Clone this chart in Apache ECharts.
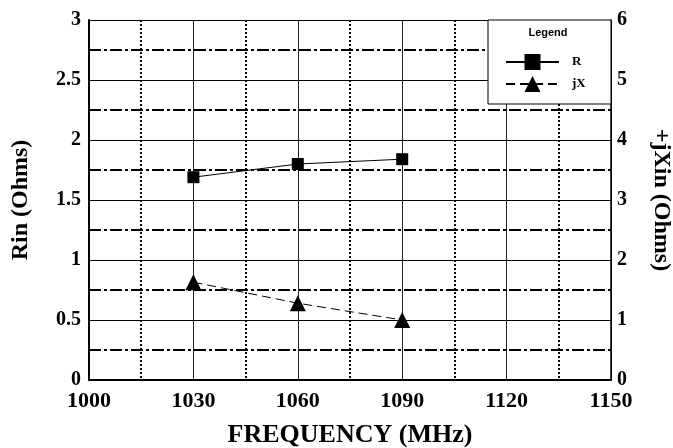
<!DOCTYPE html>
<html><head><meta charset="utf-8">
<script src="https://cdn.jsdelivr.net/npm/echarts@6/dist/echarts.min.js"></script>
<style>html,body{margin:0;padding:0;background:#fff}#c{width:673px;height:448px}</style>
</head><body><div id="c"></div>
<script>
const frequency = [1030, 1060, 1090];
const rValues = [1.69, 1.80, 1.84];
const jxValues = [1.63, 1.28, 1.00];
const seriesNames = ['R', 'jX'];
const xTitle = 'FREQUENCY (MHz)';
const leftTitle = 'Rin (Ohms)';
const rightTitle = '+jXin (Ohms)';

const serif = '"Liberation Serif", "Times New Roman", serif';
const chart = echarts.init(document.getElementById('c'));
chart.setOption({
  animation: false,
  backgroundColor: '#fff',
  grid: {left: 89, right: 62, top: 20, bottom: 68, containLabel: false, outerBoundsMode: 'none'},
  graphic: [
    {type: 'rect', z: 3, shape: {x: 488, y: 20, width: 123, height: 84},
     style: {fill: '#fff', stroke: '#000', lineWidth: 1}},
    {type: 'text', z: 4, x: 548, y: 33,
     style: {text: 'Legend', font: 'bold 11px "Liberation Sans", Arial, sans-serif', fill: '#000', align: 'center', verticalAlign: 'middle'}}
  ],
  legend: {
    z: 5, orient: 'vertical', left: 505, top: 54, itemGap: 6, padding: 0,
    itemWidth: 53, itemHeight: 20,
    textStyle: {fontFamily: serif, fontWeight: 'bold', fontSize: 13, color: '#000', padding: [0, 0, 0, 8]},
    data: seriesNames
  },
  xAxis: {
    type: 'value', min: 1000, max: 1150, interval: 30,
    name: xTitle, nameLocation: 'middle', nameGap: 42,
    nameTextStyle: {fontFamily: serif, fontWeight: 'bold', fontSize: 26, color: '#000'},
    axisLine: {show: true, lineStyle: {color: '#000', width: 2}},
    axisTick: {show: false},
    axisLabel: {fontFamily: serif, fontWeight: 'bold', fontSize: 22, color: '#000', margin: 10,
                formatter: v => String(v)},
    splitLine: {show: true, lineStyle: {color: '#222', width: 1}},
    minorTick: {show: false, splitNumber: 2},
    minorSplitLine: {show: true, lineStyle: {color: '#000', width: 2, type: [2, 2]}}
  },
  yAxis: [{
    type: 'value', min: 0, max: 3, interval: 0.5, position: 'left',
    name: leftTitle, nameLocation: 'middle', nameGap: 56, nameRotate: 90,
    nameTextStyle: {fontFamily: serif, fontWeight: 'bold', fontSize: 24, color: '#000'},
    axisLine: {show: true, lineStyle: {color: '#000', width: 2}},
    axisTick: {show: false},
    axisLabel: {fontFamily: serif, fontWeight: 'bold', fontSize: 20, color: '#000', margin: 8,
                formatter: v => String(v)},
    splitLine: {show: true, lineStyle: {color: '#000', width: 1}},
    minorTick: {show: false, splitNumber: 2},
    minorSplitLine: {show: true, lineStyle: {color: '#000', width: 2, type: [12, 3, 3, 3]}}
  }, {
    type: 'value', min: 0, max: 6, interval: 1, position: 'right',
    name: rightTitle, nameLocation: 'middle', nameGap: 38, nameRotate: -90,
    nameTextStyle: {fontFamily: serif, fontWeight: 'bold', fontSize: 24, color: '#000'},
    axisLine: {show: true, lineStyle: {color: '#000', width: 1.5}},
    axisTick: {show: false},
    axisLabel: {fontFamily: serif, fontWeight: 'bold', fontSize: 20, color: '#000', margin: 6,
                formatter: v => String(v)},
    splitLine: {show: false}
  }],
  series: [{
    name: seriesNames[0], type: 'line', yAxisIndex: 0,
    data: frequency.map((f, i) => [f, rValues[i]]),
    symbol: 'rect', symbolSize: 12,
    itemStyle: {color: '#000'}, lineStyle: {color: '#000', width: 1}
  }, {
    name: seriesNames[1], type: 'line', yAxisIndex: 1,
    data: frequency.map((f, i) => [f, jxValues[i]]),
    symbol: 'triangle', symbolSize: 16,
    itemStyle: {color: '#000'}, lineStyle: {color: '#000', width: 1, type: [9, 5]}
  }]
});
</script></body></html>
